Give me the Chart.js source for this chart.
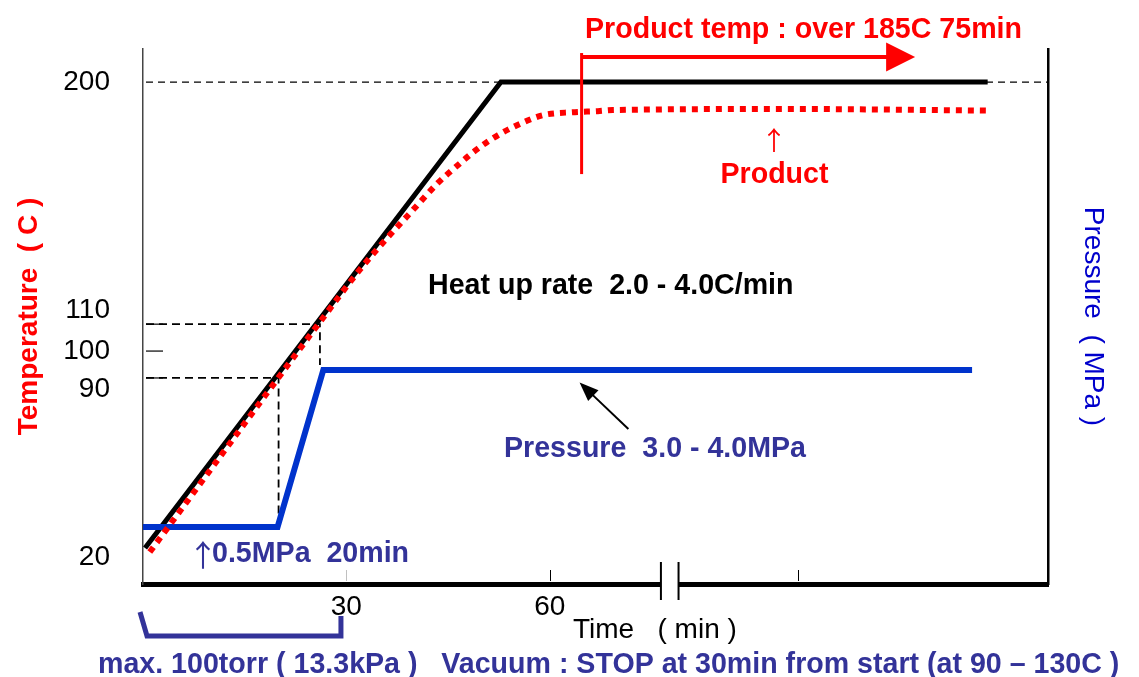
<!DOCTYPE html>
<html>
<head>
<meta charset="utf-8">
<script src="https://cdn.jsdelivr.net/npm/chart.js@4.4.1/dist/chart.umd.min.js"></script>
<style>
html,body{margin:0;padding:0;background:#fff;}
canvas{display:block;}
</style>
</head>
<body>
<canvas id="c" width="1139" height="677"></canvas>
<script>
// ---------------- data ----------------
const heaterTime   = [0.3, 52.8, 124.6];
const heaterTemp   = [26.8, 200, 200];
const productTime  = [1.0, 26.1, 31.9, 36.0, 39.8, 43.5, 46.3, 49.3, 52.4, 55.9, 59.0, 63.3, 67.1, 69.3, 95.0, 124.6];
const productTemp  = [25.3, 110.8, 130.0, 142.0, 152.4, 162.5, 168.8, 175.1, 180.3, 184.8, 187.7, 188.8, 189.2, 189.6, 190.0, 189.4];
const pressureTime = [0, 19.85, 26.6, 122.3];
const pressureMPa  = [0.5, 0.5, 3.5, 3.5];
const tempTickValues = [20, 90, 100, 110, 200];
const tempTickLabels = ['20', '90', '100', '110', '200'];
const timeTickValues = [30, 60, 96.6];
const timeTickLabels = ['30', '60', ''];
const guideTemps = [90, 110];          // dashed guide levels
const guideTimes = [20.0, 26.1];       // where the guides meet the heater line
const axisBreakTimes = [76.4, 79.0];   // broken time axis
const soakStartTime = 64.7;            // red marker "over 185C"
const soakArrowEndTime = 113.9;
const pressureArrow = {fromT: 71.6, fromP: 2.37, toT: 64.4, toP: 3.26};
const vacuumBracketTimes = [0, 29.2];

// ---------------- styling ----------------
const FONT = "'Liberation Sans', Arial, Helvetica, sans-serif";
const ARROW_FONT = "'Noto Sans CJK JP', 'Liberation Sans', sans-serif";
const RED = '#ff0000';
const NAVY = '#333399';
const LINE_BLUE = '#0033cc';
const tickNudge = {20: -9, 90: 11, 110: -14};

Chart.defaults.font.family = FONT;
Chart.defaults.color = '#000';

const toXY = (xs, ys) => xs.map((v, i) => ({x: v, y: ys[i]}));

function seg(ctx, pts) {
  ctx.beginPath();
  ctx.moveTo(pts[0][0], pts[0][1]);
  for (let i = 1; i < pts.length; i++) ctx.lineTo(pts[i][0], pts[i][1]);
  ctx.stroke();
}
function arrowHead(ctx, x1, y1, x2, y2, len, half) {
  const a = Math.atan2(y2 - y1, x2 - x1);
  ctx.beginPath();
  ctx.moveTo(x2, y2);
  ctx.lineTo(x2 - len * Math.cos(a) + half * Math.sin(a), y2 - len * Math.sin(a) - half * Math.cos(a));
  ctx.lineTo(x2 - len * Math.cos(a) - half * Math.sin(a), y2 - len * Math.sin(a) + half * Math.cos(a));
  ctx.closePath();
  ctx.fill();
}
function txt(ctx, s, x, y, font, color, align) {
  ctx.font = font;
  ctx.fillStyle = color;
  ctx.textAlign = align || 'left';
  ctx.textBaseline = 'alphabetic';
  ctx.fillText(s, x, y);
}

const annotations = {
  id: 'annotations',
  beforeDatasetsDraw(chart) {
    const {ctx, chartArea: a, scales: {x, y, y2}} = chart;
    ctx.save();
    ctx.strokeStyle = '#000';
    // 200 reference dashed line
    ctx.lineWidth = 1.3;
    ctx.setLineDash([7, 5]);
    seg(ctx, [[a.left + 3, y.getPixelForValue(200)], [a.right, y.getPixelForValue(200)]]);
    // 90 / 110 guides
    ctx.lineWidth = 1.8;
    ctx.setLineDash([8, 5]);
    seg(ctx, [[a.left + 3, y.getPixelForValue(guideTemps[0])],
              [x.getPixelForValue(guideTimes[0]), y.getPixelForValue(guideTemps[0])],
              [x.getPixelForValue(guideTimes[0]), y2.getPixelForValue(pressureMPa[1])]]);
    seg(ctx, [[a.left + 3, y.getPixelForValue(guideTemps[1])],
              [x.getPixelForValue(guideTimes[1]), y.getPixelForValue(guideTemps[1])],
              [x.getPixelForValue(guideTimes[1]), y2.getPixelForValue(pressureMPa[2]) - 5]]);
    // short inner ticks on the temperature axis
    ctx.setLineDash([]);
    ctx.lineWidth = 1.2;
    [90, 100, 110].forEach(v => seg(ctx, [[a.left + 3, y.getPixelForValue(v)], [a.left + 20, y.getPixelForValue(v)]]));
    ctx.restore();
  },
  afterDraw(chart) {
    const {ctx, chartArea: a, scales: {x, y, y2}} = chart;
    ctx.save();
    // inner ticks on time axis
    ctx.lineWidth = 1;
    timeTickValues.forEach((v, i) => {
      ctx.strokeStyle = i === 0 ? '#c0c0c0' : '#000';
      const px = Math.round(x.getPixelForValue(v)) + 0.5;
      seg(ctx, [[px, a.bottom - 14], [px, a.bottom - 3]]);
    });
    // axis break
    const b1 = x.getPixelForValue(axisBreakTimes[0]), b2 = x.getPixelForValue(axisBreakTimes[1]);
    ctx.fillStyle = '#fff';
    ctx.fillRect(b1, a.bottom - 4, b2 - b1, 8);
    ctx.strokeStyle = '#000';
    ctx.lineWidth = 2;
    seg(ctx, [[b1, a.bottom - 22], [b1, a.bottom + 16]]);
    seg(ctx, [[b2, a.bottom - 22], [b2, a.bottom + 16]]);

    // red soak marker + arrow
    ctx.strokeStyle = RED; ctx.fillStyle = RED;
    const sx = x.getPixelForValue(soakStartTime);
    ctx.lineWidth = 3;
    seg(ctx, [[sx, y.getPixelForValue(210.8)], [sx, y.getPixelForValue(165.8)]]);
    const ay = y.getPixelForValue(209.3);
    const ex = x.getPixelForValue(soakArrowEndTime);
    ctx.lineWidth = 4;
    seg(ctx, [[sx, ay], [ex - 26, ay]]);
    arrowHead(ctx, sx, ay, ex, ay, 29, 14.5);

    // black arrow to pressure line
    ctx.strokeStyle = '#000'; ctx.fillStyle = '#000';
    const p1 = [x.getPixelForValue(pressureArrow.fromT), y2.getPixelForValue(pressureArrow.fromP)];
    const p2 = [x.getPixelForValue(pressureArrow.toT), y2.getPixelForValue(pressureArrow.toP)];
    ctx.lineWidth = 2;
    seg(ctx, [p1, [p2[0] + (p1[0] - p2[0]) * 0.25, p2[1] + (p1[1] - p2[1]) * 0.25]]);
    arrowHead(ctx, p1[0], p1[1], p2[0], p2[1], 19, 7.5);

    // vacuum bracket
    ctx.strokeStyle = NAVY;
    ctx.lineWidth = 5;
    ctx.lineJoin = 'miter';
    const v0 = x.getPixelForValue(vacuumBracketTimes[0]), v1 = x.getPixelForValue(vacuumBracketTimes[1]);
    seg(ctx, [[v0 - 3, a.bottom + 28], [v0 + 4, a.bottom + 52], [v1, a.bottom + 52], [v1, a.bottom + 32]]);

    // texts
    const B = 'bold 28.6px ' + FONT;
    const R28 = '28px ' + FONT;
    txt(ctx, 'Product temp : over 185C 75min', 803.5, 38, B, RED, 'center');
    txt(ctx, '\u2191', 774, 150, '26px ' + ARROW_FONT, RED, 'center');
    txt(ctx, 'Product', 774.5, 183, B, RED, 'center');
    txt(ctx, 'Heat up rate  2.0 - 4.0C/min', 428, 294, B, '#000', 'left');
    txt(ctx, 'Pressure  3.0 - 4.0MPa', 504, 457, B, NAVY, 'left');
    txt(ctx, '\u2191', 203, 566, '30px ' + ARROW_FONT, NAVY, 'center');
    txt(ctx, '0.5MPa  20min', 212, 562, B, NAVY, 'left');
    txt(ctx, 'Time   ( min )', 573, 638, R28, '#000', 'left');
    txt(ctx, 'max. 100torr ( 13.3kPa )   Vacuum : STOP at 30min from start (at 90 \u2013 130C )', 98, 673, B, NAVY, 'left');
    ctx.restore();
  }
};

new Chart(document.getElementById('c'), {
  type: 'line',
  data: {
    datasets: [
      {label: 'Product', data: toXY(productTime, productTemp), yAxisID: 'y',
       borderColor: RED, borderWidth: 6, borderDash: [6, 6], borderCapStyle: 'butt',
       pointRadius: 0, fill: false, cubicInterpolationMode: 'monotone'},
      {label: 'Pressure', data: toXY(pressureTime, pressureMPa), yAxisID: 'y2',
       borderColor: LINE_BLUE, borderWidth: 6, pointRadius: 0, tension: 0, borderJoinStyle: 'miter', fill: false},
      {label: 'Heater', data: toXY(heaterTime, heaterTemp), yAxisID: 'y',
       borderColor: '#000', borderWidth: 5, pointRadius: 0, tension: 0, borderJoinStyle: 'miter', fill: false}
    ]
  },
  options: {
    responsive: false,
    animation: false,
    devicePixelRatio: 1,
    layout: {padding: {top: 49, left: 0, right: 0, bottom: 0}},
    plugins: {legend: {display: false}, tooltip: {enabled: false}},
    scales: {
      x: {
        type: 'linear', position: 'bottom', min: 0, max: 133.5,
        afterBuildTicks: s => { s.ticks = timeTickValues.map(v => ({value: v})); },
        afterFit: s => { s.height = 93; },
        ticks: {callback: (v, i) => timeTickLabels[i], font: {size: 28, family: FONT}, color: '#000',
                padding: 6, maxRotation: 0, autoSkip: false},
        grid: {display: false, drawTicks: false},
        border: {display: true, color: '#000', width: 5}
      },
      y: {
        type: 'linear', position: 'left', min: 13.4, max: 212.3,
        afterBuildTicks: s => { s.ticks = tempTickValues.map(v => ({value: v})); },
        afterFit: s => { s.width = 143; },
        ticks: {
          callback: v => {
            const lbl = tempTickLabels[tempTickValues.indexOf(v)];
            const n = tickNudge[v];
            if (!n) return lbl;
            return n < 0 ? [lbl, ''] : ['', lbl];
          },
          font: c => {
            const v = c.tick ? c.tick.value : null;
            const n = tickNudge[v];
            return {size: 28, family: FONT, lineHeight: n ? Math.abs(n) * 2 / 28 : 1.2};
          },
          color: '#000', padding: 8, autoSkip: false
        },
        grid: {display: true, drawOnChartArea: false, drawTicks: true, tickLength: 25, tickColor: 'rgba(0,0,0,0)'},
        border: {display: true, color: '#444', width: 1.5},
        title: {display: true, text: 'Temperature  ( C )', color: RED,
                font: {size: 28, weight: 'bold', family: FONT}, padding: {top: 12, bottom: 0}}
      },
      y2: {
        type: 'linear', position: 'right', min: -0.589, max: 9.63,
        afterFit: s => { s.width = 91; },
        ticks: {display: false},
        grid: {display: false, drawTicks: false},
        border: {display: true, color: '#000', width: 2.5},
        title: {display: true, text: 'Pressure  ( MPa )', color: '#0000cc',
                font: {size: 28, family: FONT}, padding: {top: 29, bottom: 0}}
      }
    }
  },
  plugins: [annotations]
});
</script>
</body>
</html>
